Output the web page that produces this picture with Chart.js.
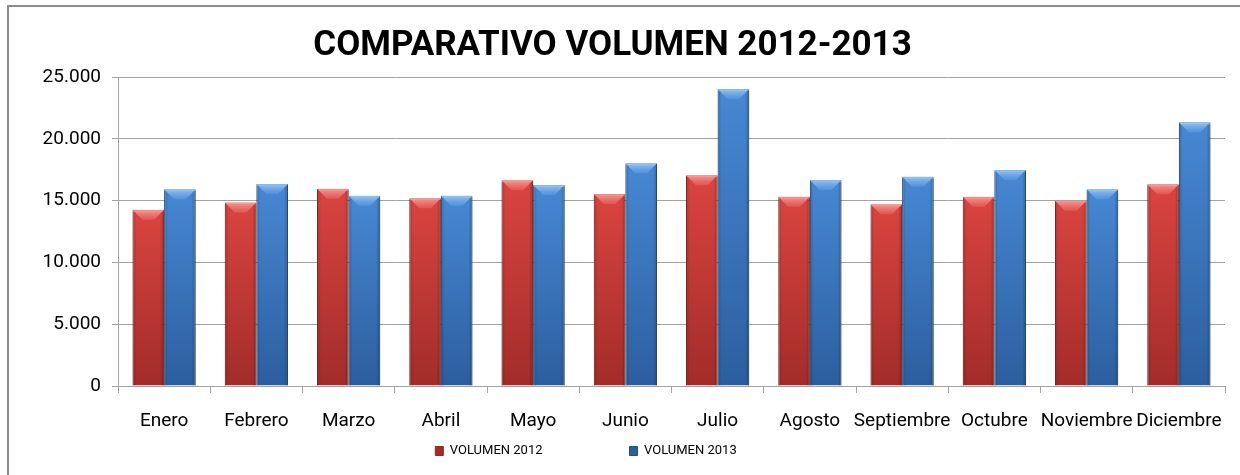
<!DOCTYPE html>
<html><head><meta charset="utf-8">
<script src="https://cdn.jsdelivr.net/npm/chart.js@4.4.1/dist/chart.umd.min.js"></script>
<style>
html,body{margin:0;padding:0;background:#fff;overflow:hidden;}
#wrap{position:relative;width:1240px;height:475px;}
#frame{position:absolute;left:7px;top:5px;width:1250px;height:490px;border-left:2px solid #8c8c8c;border-top:2px solid #8c8c8c;pointer-events:none;}
canvas{position:absolute;left:0;top:0;}
</style></head><body>
<div id="wrap"><canvas id="c" width="1240" height="475"></canvas><div id="frame"></div></div>
<script>
const months = ['Enero','Febrero','Marzo','Abril','Mayo','Junio','Julio','Agosto','Septiembre','Octubre','Noviembre','Diciembre'];
const vol2012 = [14250, 14850, 15950, 15200, 16650, 15530, 17050, 15320, 14700, 15310, 14990, 16320];
const vol2013 = [15920, 16350, 15400, 15400, 16260, 18020, 24030, 16670, 16930, 17480, 15920, 21330];
const seriesNames = ['VOLUMEN 2012', 'VOLUMEN 2013'];
const chartTitle = 'COMPARATIVO VOLUMEN 2012-2013';
const yMax = 25000, yStep = 5000;

const FONT = "Roboto,'DejaVu Sans Condensed',sans-serif";
Chart.defaults.font.family = FONT;
Chart.defaults.color = '#000';

function fmt(v){ return String(v).replace(/\B(?=(\d{3})+(?!\d))/g, '.'); }

function barGrad(topCol, botCol){
  return (ctx) => {
    const ch = ctx.chart, a = ch.chartArea;
    if (!a || ctx.type !== 'data') return botCol;
    const yS = ch.scales.y;
    const yTop = yS.getPixelForValue(ctx.raw);
    const g = ch.ctx.createLinearGradient(0, yTop, 0, a.bottom);
    g.addColorStop(0, topCol);
    g.addColorStop(1, botCol);
    return g;
  };
}

const bevel = {
  id: 'bevel',
  afterDatasetsDraw(chart){
    const c = chart.ctx;
    chart.data.datasets.forEach((ds, di) => {
      const meta = chart.getDatasetMeta(di);
      meta.data.forEach(bar => {
        const {x, y, base, width} = bar.getProps(['x','y','base','width'], true);
        const l = x - width/2, r = x + width/2, h = base - y;
        const b = Math.min(10, h/2);
        c.save();
        const tg = c.createLinearGradient(0, y, 0, y + b);
        tg.addColorStop(0, ds.bevelLight);
        tg.addColorStop(1, ds.bevelMid);
        c.fillStyle = tg;
        c.beginPath();
        c.moveTo(l, y); c.lineTo(r, y); c.lineTo(r - b, y + b); c.lineTo(l + b, y + b); c.closePath();
        c.fill();
        const lg = c.createLinearGradient(l, 0, l + 4, 0);
        lg.addColorStop(0, 'rgba(0,0,0,0.18)'); lg.addColorStop(1, 'rgba(0,0,0,0)');
        c.fillStyle = lg; c.fillRect(l, y + 2, 4, h - 2);
        const rg = c.createLinearGradient(r - 4, 0, r, 0);
        rg.addColorStop(0, 'rgba(0,0,0,0)'); rg.addColorStop(1, 'rgba(0,0,0,0.25)');
        c.fillStyle = rg; c.fillRect(r - 4, y + 2, 4, h - 2);
        c.restore();
      });
    });
  }
};

const legendPos = {
  id: 'legendPos',
  afterLayout(chart){
    const lg = chart.legend;
    if (!lg) return;
    const lo = lg.options.labels;
    const fs = (lo.font && lo.font.size) || 13;
    const ih = Math.max(fs, lo.boxHeight || fs);
    const dy = 451 - (lg.top + lo.padding + ih/2);
    lg.top += dy;
    const dx = 586 - (lg.left + lg.right)/2;
    lg.left += dx; lg.right += dx;
  }
};

new Chart(document.getElementById('c'), {
  type: 'bar',
  data: {
    labels: months,
    datasets: [
      { label: seriesNames[0], data: vol2012,
        backgroundColor: barGrad('#da4440', '#a22c29'), borderColor: '#8e2624', borderWidth: 1,
        bevelLight: 'rgba(255,175,170,0.8)', bevelMid: 'rgba(240,110,105,0.45)',
        categoryPercentage: 0.685, barPercentage: 1.0 },
      { label: seriesNames[1], data: vol2013,
        backgroundColor: barGrad('#4788d4', '#2c5e9e'), borderColor: '#25507f', borderWidth: 1,
        bevelLight: 'rgba(165,210,252,0.85)', bevelMid: 'rgba(100,160,230,0.45)',
        categoryPercentage: 0.685, barPercentage: 1.0 }
    ]
  },
  options: {
    responsive: false,
    animation: false,
    layout: { padding: { left: 0, right: 15, top: 0, bottom: 0 } },
    plugins: {
      title: { display: true, text: chartTitle, color: '#000',
        font: { size: 35, weight: 'bold', family: FONT }, padding: { top: 25, bottom: 10 } },
      legend: { position: 'bottom', maxHeight: 40,
        labels: { boxWidth: 8, boxHeight: 9, padding: 87, color: '#000', font: { size: 13, family: FONT } } },
      tooltip: { enabled: false }
    },
    scales: {
      y: {
        min: 0, max: yMax,
        ticks: { stepSize: yStep, callback: v => fmt(v), color: '#000', padding: 11, font: { size: 19 } },
        grid: { color: '#a3a3a3', tickLength: 6, lineWidth: 1 },
        border: { color: '#a3a3a3' },
        afterFit: s => { s.width = 118; }
      },
      x: {
        ticks: { color: '#000', padding: 17, font: { size: 19 }, autoSkip: false, maxRotation: 0 },
        grid: { drawOnChartArea: false, tickLength: 7, color: '#a3a3a3', offset: true },
        border: { color: '#a3a3a3' },
        afterFit: s => { s.height = 49; }
      }
    }
  },
  plugins: [bevel, legendPos]
});
</script>
</body></html>
